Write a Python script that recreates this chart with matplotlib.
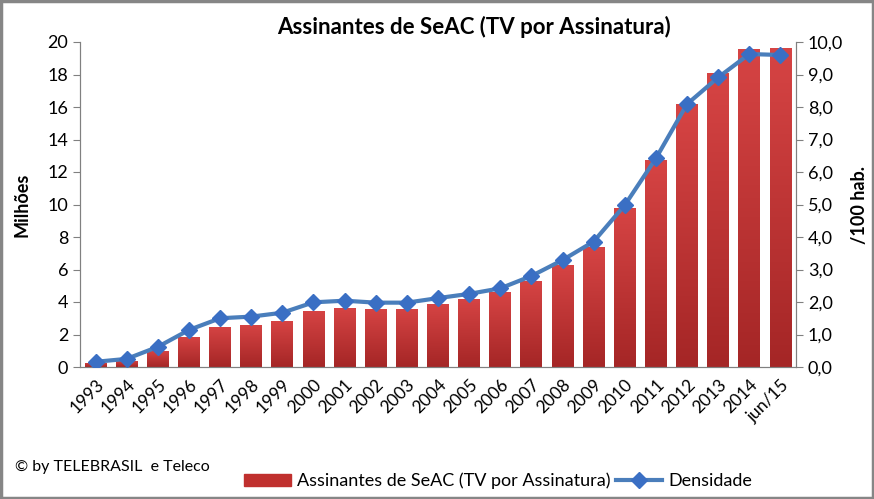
import numpy as np
import matplotlib
matplotlib.use("Agg")
import matplotlib.pyplot as plt
import matplotlib.lines as mlines
import matplotlib.patches as mpatches
from matplotlib.colors import LinearSegmentedColormap

plt.rcParams['font.family'] = ['Lato', 'DejaVu Sans']

# dados
anos = ['1993', '1994', '1995', '1996', '1997', '1998', '1999', '2000', '2001',
        '2002', '2003', '2004', '2005', '2006', '2007', '2008', '2009', '2010',
        '2011', '2012', '2013', '2014', 'jun/15']
assinantes = [0.25, 0.4, 1.0, 1.85, 2.48, 2.6, 2.83, 3.45, 3.65, 3.57, 3.57, 3.9,
              4.2, 4.6, 5.3, 6.3, 7.4, 9.8, 12.74, 16.18, 18.07, 19.57, 19.63]
densidade = [0.16, 0.25, 0.62, 1.14, 1.5, 1.55, 1.67, 1.99, 2.04, 1.98, 1.98, 2.12,
             2.25, 2.42, 2.8, 3.29, 3.86, 4.98, 6.42, 8.09, 8.91, 9.63, 9.6]

bar_color = '#c0302e'
line_color = '#4a7ebb'
marker_color = '#3a6fc4'
grad = LinearSegmentedColormap.from_list('grad', ['#a52626', '#d64444'])

fig = plt.figure(figsize=(8.74, 4.99), dpi=100)
ax = fig.add_axes([80 / 874, 1 - 367 / 499, 716 / 874, 325 / 499])
ax2 = ax.twinx()

x = np.arange(len(anos))
bars = ax.bar(x, assinantes, width=0.7, color=bar_color, zorder=2)
# gradiente vertical nas barras
for b in bars:
    bx, by = b.get_x(), b.get_y()
    bw, bh = b.get_width(), b.get_height()
    im = ax.imshow(np.linspace(0, 1, 100).reshape(-1, 1), cmap=grad, origin='lower',
                   extent=[bx, bx + bw, by, by + bh], aspect='auto', zorder=2.1)
    im.set_clip_path(b)

ax2.plot(x, densidade, color=line_color, lw=3, marker='D', ms=8,
         mfc=marker_color, mec=marker_color, zorder=3)

ax.set_xlim(-0.5, len(anos) - 0.5)
ax.set_ylim(0, 20)
ax2.set_ylim(0, 10)
ax.set_yticks(range(0, 21, 2))
ax2.set_yticks(range(0, 11))
ax2.set_yticklabels([f'{v},0' for v in range(0, 11)])

ax.set_xticks(x)
ax.set_xticklabels(anos, rotation=45, ha='right', rotation_mode='anchor')
ax.tick_params(axis='x', length=0, labelsize=12.5, pad=7)
ax.tick_params(axis='y', length=5, labelsize=13, color='#808080')
ax2.tick_params(axis='y', length=5, labelsize=13, color='#808080')

for a in (ax, ax2):
    a.spines['top'].set_visible(False)
    for s in ('left', 'right', 'bottom'):
        a.spines[s].set_color('#808080')

ax.set_ylabel('Milhões', fontsize=13, fontweight='bold', labelpad=12)
ax2.set_ylabel('/100 hab.', fontsize=13, fontweight='bold', rotation=90, labelpad=6)

fig.text(474 / 874, 1 - 27 / 499,
         'Assinantes de SeAC (TV por Assinatura)',
         ha='center', va='center', fontsize=16, fontweight='bold')

fig.text(15 / 874, 1 - 467 / 499, '© by TELEBRASIL  e Teleco',
         ha='left', va='center', fontsize=11.5)

# legenda
h_bar = mpatches.Patch(color=bar_color, label='Assinantes de SeAC (TV por Assinatura)')
h_line = mlines.Line2D([], [], color=line_color, lw=3, marker='D', ms=8,
                       mfc=marker_color, mec=marker_color, label='Densidade')
fig.legend(handles=[h_bar, h_line], loc='center', bbox_to_anchor=(498 / 874, 1 - 481 / 499),
           ncol=2, frameon=False, fontsize=13, handlelength=2.6, handletextpad=0.3,
           columnspacing=0.3)

# moldura
fig.patches.append(mpatches.Rectangle((0.0015, 0.0025), 0.997, 0.995, transform=fig.transFigure,
                                      fill=False, ec='#868686', lw=2.5))

plt.savefig('out.png', dpi=100)
